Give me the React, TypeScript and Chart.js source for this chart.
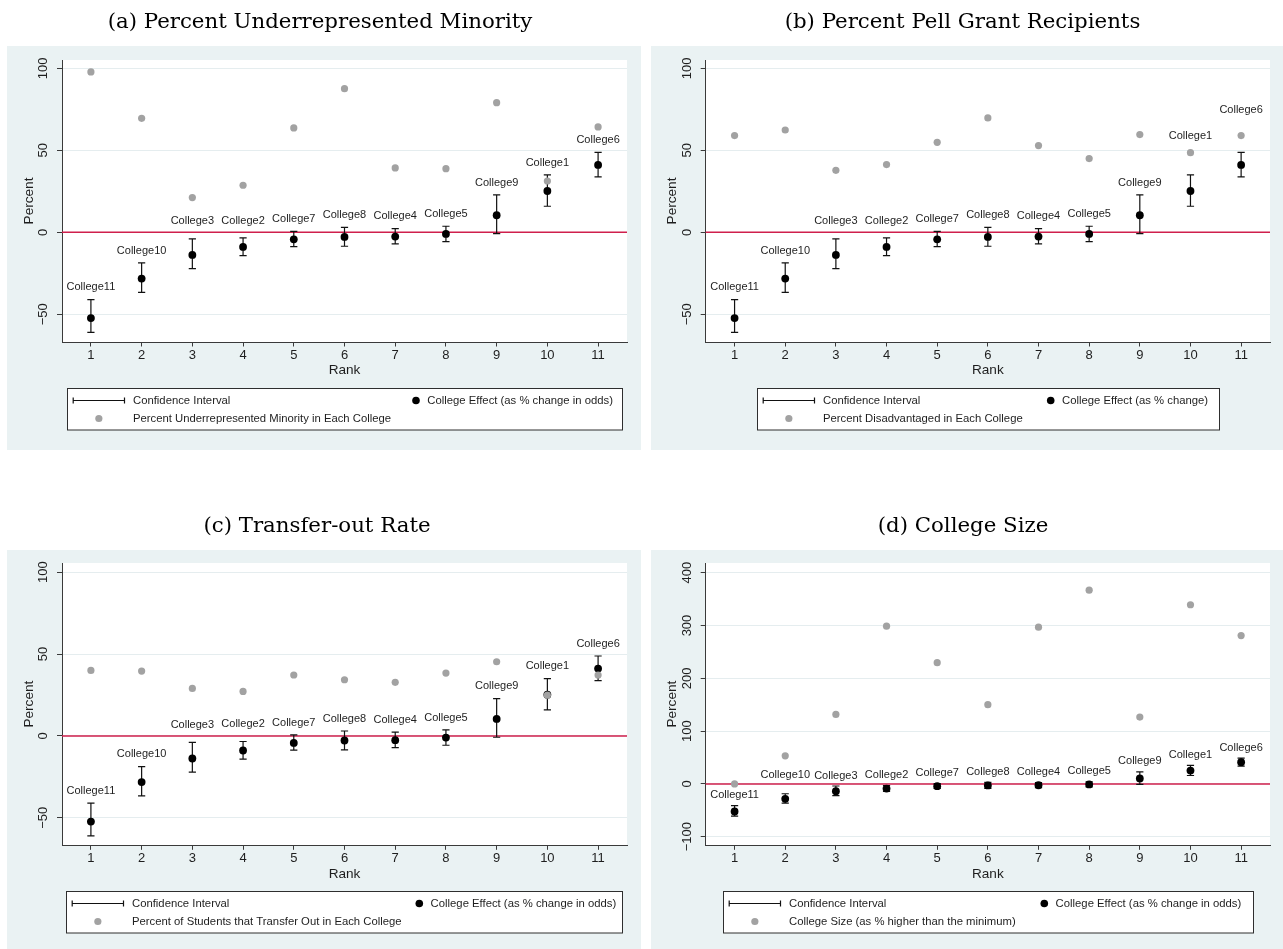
import { useEffect, useRef } from 'react';
import { Chart, registerables } from 'chart.js';

Chart.register(...registerables);

// ---------------- data ----------------
const ranks = [1, 2, 3, 4, 5, 6, 7, 8, 9, 10, 11];
const collegeNames = ['College11', 'College10', 'College3', 'College2', 'College7', 'College8', 'College4', 'College5', 'College9', 'College1', 'College6'];
const collegeEffect = [-52.3, -28.2, -13.8, -8.9, -4.3, -2.8, -2.6, -1.0, 10.4, 25.2, 41.1];
const ciLower = [-61.0, -36.6, -22.1, -14.2, -8.7, -8.5, -7.1, -5.7, -0.8, 15.9, 33.8];
const ciUpper = [-41.1, -18.7, -4.0, -3.4, 0.6, 3.0, 2.3, 3.7, 22.8, 35.0, 48.8];
const pctUnderrepresented = [97.8, 69.5, 21.2, 28.7, 63.7, 87.6, 39.3, 38.8, 79.1, 31.3, 64.3];
const pctPell = [59.0, 62.4, 37.8, 41.3, 54.9, 69.8, 52.9, 45.0, 59.6, 48.6, 59.0];
const pctTransfer = [40.0, 39.6, 29.0, 27.2, 37.2, 34.3, 32.7, 38.4, 45.3, 24.9, 37.2];
const pctSize = [0, 53.2, 131.6, 298.7, 229.7, 150.0, 296.8, 367.0, 126.6, 339.3, 281.0];
const xTickValues = [1, 2, 3, 4, 5, 6, 7, 8, 9, 10, 11];
const yTicksPercent = [-50, 0, 50, 100];
const yTicksSize = [-100, 0, 100, 200, 300, 400];

const ciLegend = 'Confidence Interval';
const xTitle = 'Rank';
const yTitle = 'Percent';

const panels = [
  {
    id: 'a', title: '(a) Percent Underrepresented Minority', gray: pctUnderrepresented,
    grayLegend: 'Percent Underrepresented Minority in Each College',
    effectLegend: 'College Effect (as % change in odds)',
    yMin: -66.9, yMax: 105.1, yTicks: yTicksPercent,
  },
  {
    id: 'b', title: '(b) Percent Pell Grant Recipients', gray: pctPell,
    grayLegend: 'Percent Disadvantaged in Each College',
    effectLegend: 'College Effect (as % change)',
    yMin: -66.9, yMax: 105.1, yTicks: yTicksPercent,
  },
  {
    id: 'c', title: '(c) Transfer-out Rate', gray: pctTransfer,
    grayLegend: 'Percent of Students that Transfer Out in Each College',
    effectLegend: 'College Effect (as % change in odds)',
    yMin: -66.8, yMax: 105.6, yTicks: yTicksPercent,
  },
  {
    id: 'd', title: '(d) College Size', gray: pctSize,
    grayLegend: 'College Size (as % higher than the minimum)',
    effectLegend: 'College Effect (as % change in odds)',
    yMin: -116.3, yMax: 418.4, yTicks: yTicksSize,
  },
];

// ---------------- style / layout ----------------
const SANS = "'Liberation Sans', Arial, Helvetica, sans-serif";
const SERIF = "'DejaVu Serif', 'Liberation Serif', serif";
const BG = '#eaf2f3';
const GRID = '#e5edef';
const AXIS = '#3a3a3a';
const TEXT = '#1e1e1e';
const RED = '#cf1f4c';
const GRAY_PT = '#a2a2a2';

const layoutStyle: Record<string, any> = {
  a: { left: 0, top: 0, w: 646, h: 500, pad: { left: 62, right: 19, top: 60, bottom: 158 }, bg: [7, 46, 634, 404], tx: 320, ty: 22, gap: 12.4, extra: [0, 0, 5.2, 4.2, 0, 0, 0, 0, 0, 0, 0], leg: [67, 622, 416] },
  b: { left: 646, top: 0, w: 637, h: 500, pad: { left: 59.7, right: 13, top: 60, bottom: 158 }, bg: [5, 46, 632, 404], tx: 316.5, ty: 22, gap: 12.4, extra: [0, 0, 5.2, 4.2, 0, 0, 0, 0, 0, 26.6, 30.3], leg: [110.7, 573, 404.7] },
  c: { left: 0, top: 500, w: 646, h: 449, pad: { left: 62, right: 19, top: 63, bottom: 103.7 }, bg: [7, 50, 634, 399], tx: 317, ty: 26, gap: 12.3, extra: [0, 0, 5.5, 5.1, 0, 0, 0, 0, 0, 0, 0], leg: [66, 621.7, 419.3] },
  d: { left: 646, top: 500, w: 637, h: 449, pad: { left: 59.7, right: 13, top: 63, bottom: 103.7 }, bg: [5, 50, 632, 399], tx: 317, ty: 26, gap: 10.5, extra: [0, 8.4, 0, 0, 0, 0, 0, 0, 0, 0, 0], leg: [76.7, 606.7, 398.3] },
};

const fmt = (v: number) => (v < 0 ? '\u2212' + Math.abs(v) : String(v));

function makePlugin(p: any, st: any) {
  return {
    id: 'stataLook' + p.id,
    beforeDraw(chart: any) {
      const ctx = chart.ctx;
      const ca = chart.chartArea;
      ctx.save();
      ctx.fillStyle = BG;
      ctx.fillRect(st.bg[0], st.bg[1], st.bg[2], st.bg[3]);
      ctx.fillStyle = '#ffffff';
      ctx.fillRect(ca.left, ca.top, ca.right - ca.left, ca.bottom - ca.top);
      ctx.fillStyle = '#000';
      ctx.font = `21.3px ${SERIF}`;
      ctx.textAlign = 'center';
      ctx.textBaseline = 'middle';
      ctx.fillText(p.title, st.tx, st.ty);
      ctx.restore();
    },
    beforeDatasetsDraw(chart: any) {
      const ctx = chart.ctx;
      const ca = chart.chartArea;
      const xs = chart.scales.x;
      const ys = chart.scales.y;
      ctx.save();
      const y0 = ys.getPixelForValue(0);
      ctx.strokeStyle = RED;
      ctx.lineWidth = 1.5;
      ctx.beginPath();
      ctx.moveTo(ca.left, y0);
      ctx.lineTo(ca.right, y0);
      ctx.stroke();
      ctx.strokeStyle = '#111';
      ctx.lineWidth = 1.2;
      ranks.forEach((r, i) => {
        const x = xs.getPixelForValue(r);
        const yl = ys.getPixelForValue(ciLower[i]);
        const yu = ys.getPixelForValue(ciUpper[i]);
        ctx.beginPath();
        ctx.moveTo(x, yl);
        ctx.lineTo(x, yu);
        ctx.moveTo(x - 3.6, yl);
        ctx.lineTo(x + 3.6, yl);
        ctx.moveTo(x - 3.6, yu);
        ctx.lineTo(x + 3.6, yu);
        ctx.stroke();
      });
      ctx.restore();
    },
    afterDraw(chart: any) {
      const ctx = chart.ctx;
      const ca = chart.chartArea;
      const xs = chart.scales.x;
      const ys = chart.scales.y;
      ctx.save();
      ctx.fillStyle = TEXT;
      ctx.font = `11px ${SANS}`;
      ctx.textAlign = 'center';
      ctx.textBaseline = 'middle';
      ranks.forEach((r, i) => {
        const x = xs.getPixelForValue(r);
        const y = ys.getPixelForValue(ciUpper[i]) - st.gap - st.extra[i];
        ctx.fillText(collegeNames[i], x, y);
      });
      ctx.font = `13px ${SANS}`;
      xTickValues.forEach((v) => {
        ctx.fillText(String(v), xs.getPixelForValue(v), ca.bottom + 13.5);
      });
      p.yTicks.forEach((v: number) => {
        ctx.save();
        ctx.translate(ca.left - 18.7, ys.getPixelForValue(v));
        ctx.rotate(-Math.PI / 2);
        ctx.fillText(fmt(v), 0, 0);
        ctx.restore();
      });
      ctx.font = `13.6px ${SANS}`;
      ctx.fillText(xTitle, (ca.left + ca.right) / 2, ca.bottom + 28.5);
      ctx.save();
      ctx.translate(ca.left - 33, (ca.top + ca.bottom) / 2);
      ctx.rotate(-Math.PI / 2);
      ctx.fillText(yTitle, 0, 0);
      ctx.restore();

      // legend
      ctx.font = `11.3px ${SANS}`;
      const [lx0, lx1, dotX] = st.leg;
      const boxH = 41.5;
      const bx = Math.round(lx0) + 0.5;
      const bw = Math.round(lx1 - lx0);
      const by = Math.round(ca.bottom + 46) + 0.5;
      ctx.fillStyle = '#ffffff';
      ctx.fillRect(bx, by, bw, boxH);
      ctx.strokeStyle = '#2e2e2e';
      ctx.lineWidth = 1;
      ctx.strokeRect(bx, by, bw, boxH);
      const row1 = by + 12;
      const row2 = by + 30;
      const sx0 = bx + 5.7;
      const symW = 51.3;
      ctx.strokeStyle = '#111';
      ctx.lineWidth = 1.2;
      ctx.beginPath();
      ctx.moveTo(sx0, row1);
      ctx.lineTo(sx0 + symW, row1);
      ctx.moveTo(sx0, row1 - 3);
      ctx.lineTo(sx0, row1 + 3);
      ctx.moveTo(sx0 + symW, row1 - 3);
      ctx.lineTo(sx0 + symW, row1 + 3);
      ctx.stroke();
      ctx.fillStyle = GRAY_PT;
      ctx.beginPath();
      ctx.arc(sx0 + symW / 2, row2, 3.6, 0, Math.PI * 2);
      ctx.fill();
      ctx.fillStyle = TEXT;
      ctx.textAlign = 'left';
      const tx1 = bx + 65.5;
      ctx.fillText(ciLegend, tx1, row1);
      ctx.fillText(p.grayLegend, tx1, row2);
      ctx.fillStyle = '#000';
      ctx.beginPath();
      ctx.arc(dotX, row1, 3.8, 0, Math.PI * 2);
      ctx.fill();
      ctx.fillStyle = TEXT;
      ctx.fillText(p.effectLegend, dotX + 11.3, row1);
      ctx.restore();
    },
  };
}

function Panel({ p }: { p: any }) {
  const ref = useRef<HTMLCanvasElement>(null);
  const st = layoutStyle[p.id];
  useEffect(() => {
    const canvas = ref.current;
    if (!canvas) return;
    const chart = new Chart(canvas, {
      type: 'scatter',
      data: {
        datasets: [
          {
            label: p.grayLegend,
            data: ranks.map((r, i) => ({ x: r, y: p.gray[i] })),
            pointRadius: 3.6,
            pointBorderWidth: 0,
            pointBackgroundColor: GRAY_PT,
            backgroundColor: GRAY_PT,
          },
          {
            label: p.effectLegend,
            data: ranks.map((r, i) => ({ x: r, y: collegeEffect[i] })),
            pointRadius: 3.9,
            pointBorderWidth: 0,
            pointBackgroundColor: '#000',
            backgroundColor: '#000',
          },
        ],
      },
      options: {
        animation: false,
        responsive: false,
        events: [],
        layout: { padding: st.pad },
        plugins: { legend: { display: false }, tooltip: { enabled: false }, title: { display: false } },
        scales: {
          x: {
            type: 'linear',
            min: 0.43,
            max: 11.57,
            afterBuildTicks: (s: any) => { s.ticks = xTickValues.map((v) => ({ value: v })); },
            afterFit: (s: any) => { s.height = 0; },
            ticks: { display: false },
            grid: { drawOnChartArea: false, drawTicks: true, tickLength: 4.5, tickColor: AXIS, tickWidth: 1 },
            border: { display: true, color: AXIS, width: 1 },
          },
          y: {
            type: 'linear',
            min: p.yMin,
            max: p.yMax,
            afterBuildTicks: (s: any) => { s.ticks = p.yTicks.map((v: number) => ({ value: v })); },
            afterFit: (s: any) => { s.width = 0; },
            ticks: { display: false },
            grid: { color: GRID, lineWidth: 1, drawTicks: true, tickLength: 5, tickColor: AXIS, tickWidth: 1 },
            border: { display: true, color: AXIS, width: 1 },
          },
        },
      } as any,
      plugins: [makePlugin(p, st)],
    });
    return () => chart.destroy();
  }, []);
  return (
    <canvas
      ref={ref}
      width={st.w}
      height={st.h}
      style={{ position: 'absolute', left: st.left, top: st.top, width: st.w, height: st.h }}
    />
  );
}

export default function App() {
  return (
    <div style={{ position: 'absolute', left: 0, top: 0, width: 1283, height: 949, background: '#fff' }}>
      {panels.map((p) => (
        <Panel key={p.id} p={p} />
      ))}
    </div>
  );
}
